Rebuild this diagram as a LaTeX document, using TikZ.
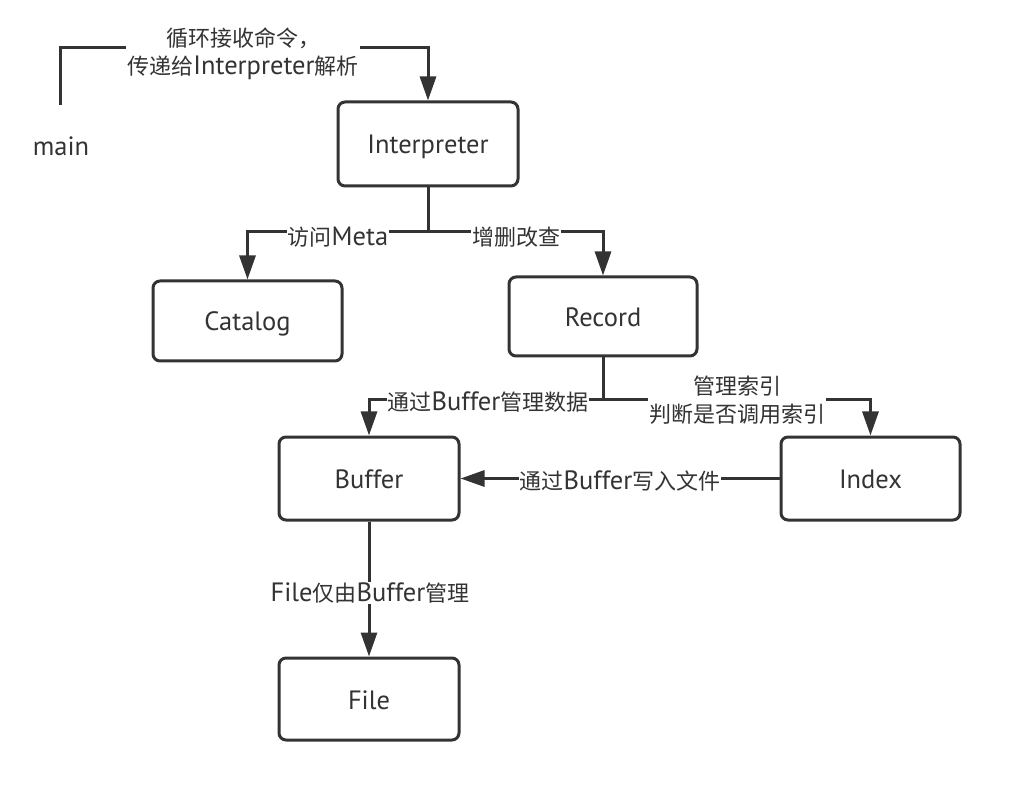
\documentclass[tikz,border=0pt]{standalone}
\usepackage{fontspec}
\setmainfont{PT Sans}
\newfontfamily\cjkfont{Noto Sans CJK SC}
\newcommand{\zh}[1]{{\cjkfont\fontsize{22}{28}\selectfont #1}}
\usetikzlibrary{arrows.meta}
\definecolor{ink}{HTML}{333333}
\tikzset{
  txt/.style={text=ink, font=\fontsize{26.5}{28}\selectfont},
  box/.style={txt, draw=ink, line width=3pt, rounded corners=7pt, fill=white, inner sep=0pt, text height=20pt, text depth=0pt},
  conn/.style={draw=ink, line width=3pt},
  arr/.style={conn, -{Triangle[length=24pt,width=16pt]}},
  lbl/.style={txt, fill=white, align=center, inner sep=1pt}
}
\begin{document}
\begin{tikzpicture}[x=1pt,y=-1pt]
\useasboundingbox (0,0) rectangle (1018,794);
% nodes
\node[txt, text height=20pt, text depth=0pt] (main) at (61,146) {main};
\node[box, minimum width=180pt, minimum height=84pt] (interp) at (428,144) {Interpreter};
\node[box, minimum width=189pt, minimum height=80pt] (catalog) at (247.5,321) {Catalog};
\node[box, minimum width=188pt, minimum height=79pt] (record) at (603,316.5) {Record};
\node[box, minimum width=180pt, minimum height=83pt] (buffer) at (369,478.5) {Buffer};
\node[box, minimum width=179pt, minimum height=83pt] (index) at (870.5,478.5) {Index};
\node[box, minimum width=180pt, minimum height=82pt] (file) at (369,699) {File};
% junctions
\coordinate (m0) at (60,105);
\coordinate (j1) at (428,232);
\coordinate (j2) at (603,400);
% connectors
\draw[arr] (m0) |- (0,48 -| interp.north) -- (interp.north);
\draw[conn] (interp.south) -- (j1);
\draw[arr] (j1) -| (catalog.north);
\draw[arr] (j1) -| (record.north);
\draw[conn] (record.south) -- (j2);
\draw[arr] (j2) -| (buffer.north);
\draw[arr] (j2) -| (index.north);
\draw[arr] (index.west) -- (buffer.east);
\draw[arr] (buffer.south) -- (file.north);
% labels
\node[lbl] (l1) at (243,54) {\zh{循环接收命令，}\\\zh{传递给}Interpreter\zh{解析}};
\node[lbl] (l2) at (338,237) {\zh{访问}Meta};
\node[lbl] (l3) at (516,237) {\zh{增删改查}};
\node[lbl] (l4) at (488,402) {\zh{通过}Buffer\zh{管理数据}};
\node[lbl] (l5) at (737,400) {\zh{管理索引}\\\zh{判断是否调用索引}};
\node[lbl] (l6) at (620,481) {\zh{通过}Buffer\zh{写入文件}};
\node[lbl] (l7) at (370,593) {File\zh{仅由}Buffer\zh{管理}};
\end{tikzpicture}
\end{document}
